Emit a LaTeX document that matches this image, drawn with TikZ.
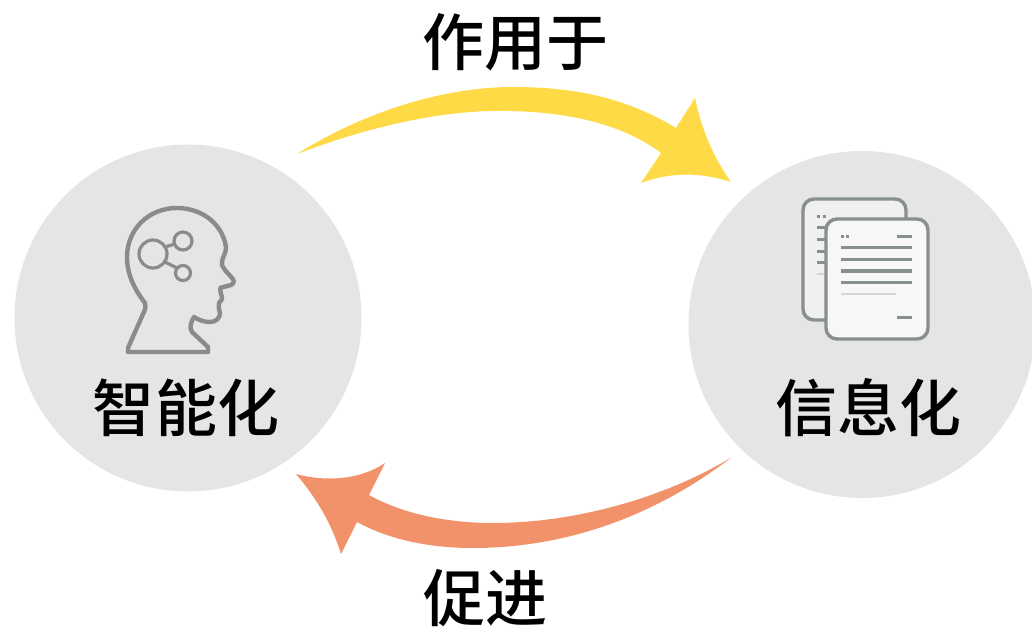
\documentclass[tikz,border=0pt]{standalone}
\usepackage{fontspec}
\newfontfamily\cjk{Noto Sans CJK SC Medium}
\definecolor{disc}{HTML}{E5E5E3}
\definecolor{sunny}{HTML}{FFDA47}
\definecolor{coral}{HTML}{F2926B}
\definecolor{headline}{HTML}{8B8B8B}
\definecolor{docline}{HTML}{87908F}
\definecolor{docback}{HTML}{F0F0F0}
\definecolor{docfront}{HTML}{F7F7F7}
\definecolor{docfaint}{HTML}{D6D6D6}
\tikzset{
  disc node/.style={circle,fill=disc,minimum size=347bp,inner sep=0pt},
  label text/.style={font=\cjk\fontsize{62bp}{62bp}\selectfont,text=black,inner sep=0pt},
  headstroke/.style={draw=headline,line width=4.4bp,line join=round,line cap=round},
  brainstroke/.style={draw=headline,line width=3.2bp},
  docsheet/.style={draw=docline,line width=3.4bp,rounded corners=11bp},
  docrule/.style={draw=docline,line width=3bp},
  faintrule/.style={draw=docfaint,line width=2.6bp}
}
\begin{document}
\begin{tikzpicture}[x=1bp,y=-1bp]
\useasboundingbox (0,0) rectangle (1032,627);
\node[disc node] (smart) at (188,318) {};
\node[disc node] (info) at (862,324.5) {};
\coordinate (ytail) at (297,154);
\coordinate (ytip) at (731,182);
\coordinate (otail) at (732,457);
\coordinate (otip) at (296,474);
% yellow arrow
\fill[sunny] (ytail) .. controls (370,108) and (450,87) .. (513,87)
  .. controls (580,87) and (630,100) .. (676,128)
  -- (695,98) .. controls (702,130) and (712,155) .. (ytip)
  .. controls (700,172) and (670,172) .. (641,183)
  -- (661,153) .. controls (620,122) and (560,110) .. (493,111)
  .. controls (430,112) and (360,130) .. (ytail) -- cycle;
% orange arrow
\fill[coral] (otail) .. controls (650,520) and (560,548) .. (473,548)
  .. controls (430,548) and (390,540) .. (357,522)
  -- (341,554) .. controls (332,525) and (318,500) .. (otip)
  .. controls (325,482) and (360,480) .. (385,463)
  -- (369,495) .. controls (405,515) and (450,523) .. (493,523)
  .. controls (580,523) and (670,495) .. (otail) -- cycle;
% head icon
\draw[headstroke] (128,352) -- (208,352) -- (208,347) -- (192,332)
  .. controls (189,327) and (191,322) .. (194,317)
  .. controls (200,321) and (206,322) .. (210,322)
  .. controls (216,322) and (220,318) .. (220,313)
  .. controls (219,309) and (218,306) .. (219,303)
  .. controls (222,300) and (223,298) .. (221,294)
  -- (220,288) -- (231,285) .. controls (235,283) and (234,280) .. (232,278)
  .. controls (228,273) and (224,270) .. (222,265)
  .. controls (221,258) and (226,255) .. (226,247)
  .. controls (222,222) and (200,208) .. (177,208)
  .. controls (148,208) and (127,230) .. (127,257)
  .. controls (127,275) and (135,290) .. (145,303)
  .. controls (146,308) and (145,310) .. (143,314) -- (128,348) -- cycle;
\draw[brainstroke] (153,254) circle (14bp);
\draw[brainstroke] (183,241) circle (9bp);
\draw[brainstroke] (183,273) circle (7.5bp);
\draw[brainstroke] (165,247) -- (175,244);
\draw[brainstroke] (165,262) -- (177,268);
% documents
\path[docsheet,fill=docback] (803,199) rectangle (906,320);
\foreach \yy in {228,240,252,263} \draw[docrule] (817,\yy) -- (826,\yy);
\draw[docrule] (817,217) -- (820,217) (823,217) -- (826,217);
\draw[faintrule] (817,274) -- (826,274);
\path[docsheet,fill=docfront] (826,219) rectangle (928,339);
\foreach \yy in {248,260,271,282} \draw[docrule] (841,\yy) -- (912,\yy);
\draw[docrule] (841,236.5) -- (844,236.5) (846,236.5) -- (849,236.5);
\draw[docrule] (897,236.5) -- (912,236.5);
\draw[faintrule] (841,294) -- (896,294);
\draw[docrule] (897,317) -- (912,317);
% labels
\node[label text] (tzy) at (515,42) {作用于};
\node[label text] (tcj) at (485,598) {促进};
\node[label text] (tzn) at (186,408) {智能化};
\node[label text] (txx) at (868,408) {信息化};
\end{tikzpicture}
\end{document}
